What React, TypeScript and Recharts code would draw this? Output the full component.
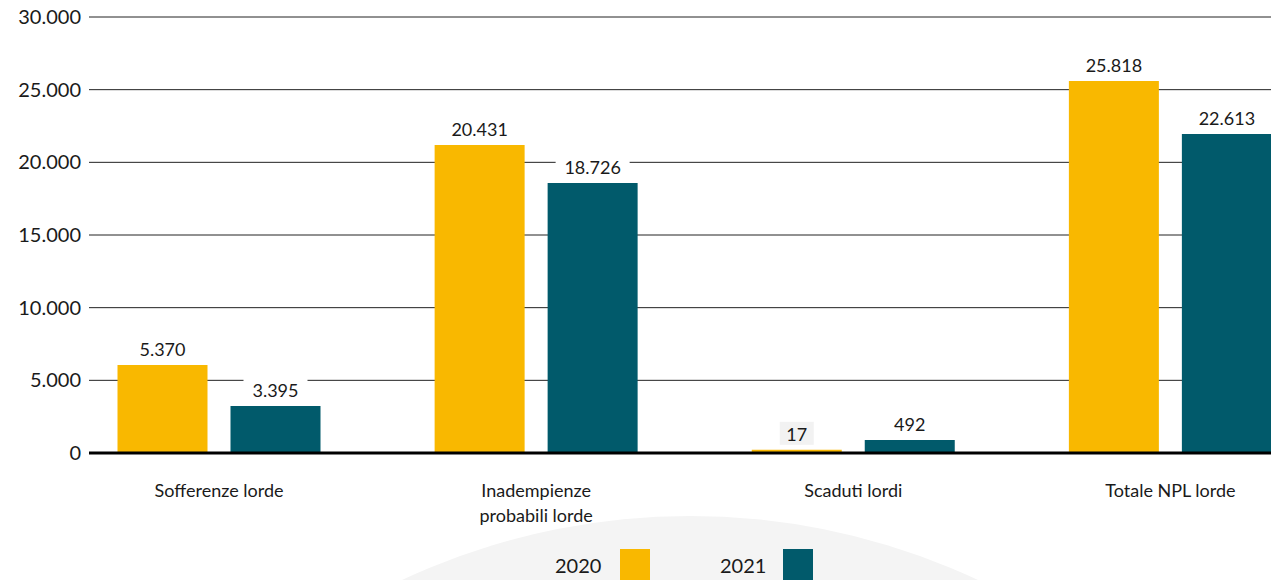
import React from 'react';
import { BarChart, Bar, XAxis, YAxis, CartesianGrid, LabelList } from 'recharts';

const CATEGORIES = ['Sofferenze lorde', 'Inadempienze\nprobabili lorde', 'Scaduti lordi', 'Totale NPL lorde'];
// bar heights as drawn in the picture
const VALUES_2020 = [6050, 21190, 220, 25600];
const VALUES_2021 = [3230, 18580, 890, 21950];
// printed value labels
const LABELS_2020 = ['5.370', '20.431', '17', '25.818'];
const LABELS_2021 = ['3.395', '18.726', '492', '22.613'];
const Y_TICKS = [0, 5000, 10000, 15000, 20000, 25000, 30000];
const SERIES = ['2020', '2021'];

const YELLOW = '#f9b800';
const TEAL = '#015a6b';
const FONT = 'Lato, "Open Sans", sans-serif';

const data = CATEGORIES.map((name, i) => ({
    name,
    v2020: VALUES_2020[i],
    v2021: VALUES_2021[i],
}));

const fmtTick = (v: number) => (v === 0 ? '0' : String(v).replace(/(\d)(?=(\d{3})+$)/g, '$1.'));

const makeLabel = (labels: string[]) => (props: any) => {
    const { x, y, width, index } = props;
    const text = labels[index];
    const w = text.length * 10 + 14;
    const cx = x + width / 2;
    const bg = text === '17' ? '#f2f2f2' : '#ffffff';
    return (
        <g>
            <rect x={cx - w / 2} y={y - 28} width={w} height={23} fill={bg} />
            <text x={cx} y={y - 16} textAnchor="middle" dominantBaseline="central" fontSize={18} fill="#1a1a1a" fontFamily={FONT}>
                {text}
            </text>
        </g>
    );
};

const CategoryTick = ({ x, y, payload }: any) => {
    const lines = String(payload.value).split('\n');
    return (
        <g>
            {lines.map((l, i) => (
                <text key={i} x={x} y={y + 29 + i * 25} textAnchor="middle" dominantBaseline="central" fontSize={18} fill="#1a1a1a" fontFamily={FONT}>
                    {l}
                </text>
            ))}
        </g>
    );
};

export default function App() {
    return (
        <div style={{ position: 'absolute', left: 0, top: 0, width: 1271, height: 580, overflow: 'hidden', background: '#fff' }}>
            <div style={{ position: 'absolute', left: 690 - 680, top: 516, width: 1360, height: 1360, borderRadius: '50%', background: '#f4f4f4' }} />
            <div style={{ position: 'absolute', left: 0, top: 0 }}>
                <BarChart
                    width={1329}
                    height={580}
                    data={data}
                    margin={{ top: 17, right: 0, left: 0, bottom: 0 }}
                    barSize={90}
                    barGap={23}
                >
                    <CartesianGrid horizontal vertical={false} stroke="#222" strokeWidth={1} />
                    <YAxis
                        width={89}
                        domain={[0, 30000]}
                        ticks={Y_TICKS}
                        tickFormatter={fmtTick}
                        tickLine={false}
                        axisLine={false}
                        interval={0}
                        tick={{ fontSize: 20, fill: '#1a1a1a', fontFamily: FONT }}
                    />
                    <XAxis
                        dataKey="name"
                        height={127}
                        padding={{ left: -28.5, right: 0 }}
                        tickLine={false}
                        axisLine={{ stroke: '#000', strokeWidth: 3 }}
                        interval={0}
                        tick={<CategoryTick />}
                    />
                    <Bar dataKey="v2020" fill={YELLOW} isAnimationActive={false}>
                        <LabelList dataKey="v2020" content={makeLabel(LABELS_2020)} />
                    </Bar>
                    <Bar dataKey="v2021" fill={TEAL} isAnimationActive={false}>
                        <LabelList dataKey="v2021" content={makeLabel(LABELS_2021)} />
                    </Bar>
                </BarChart>
            </div>
            <div style={{ position: 'absolute', left: 0, top: 549, width: 1271, fontFamily: FONT, fontSize: 20, color: '#1a1a1a' }}>
                <span style={{ position: 'absolute', left: 555, top: 4 }}>{SERIES[0]}</span>
                <span style={{ position: 'absolute', left: 620, top: 0, width: 30, height: 31, background: YELLOW }} />
                <span style={{ position: 'absolute', left: 720, top: 4 }}>{SERIES[1]}</span>
                <span style={{ position: 'absolute', left: 783, top: 0, width: 30, height: 31, background: TEAL }} />
            </div>
        </div>
    );
}
